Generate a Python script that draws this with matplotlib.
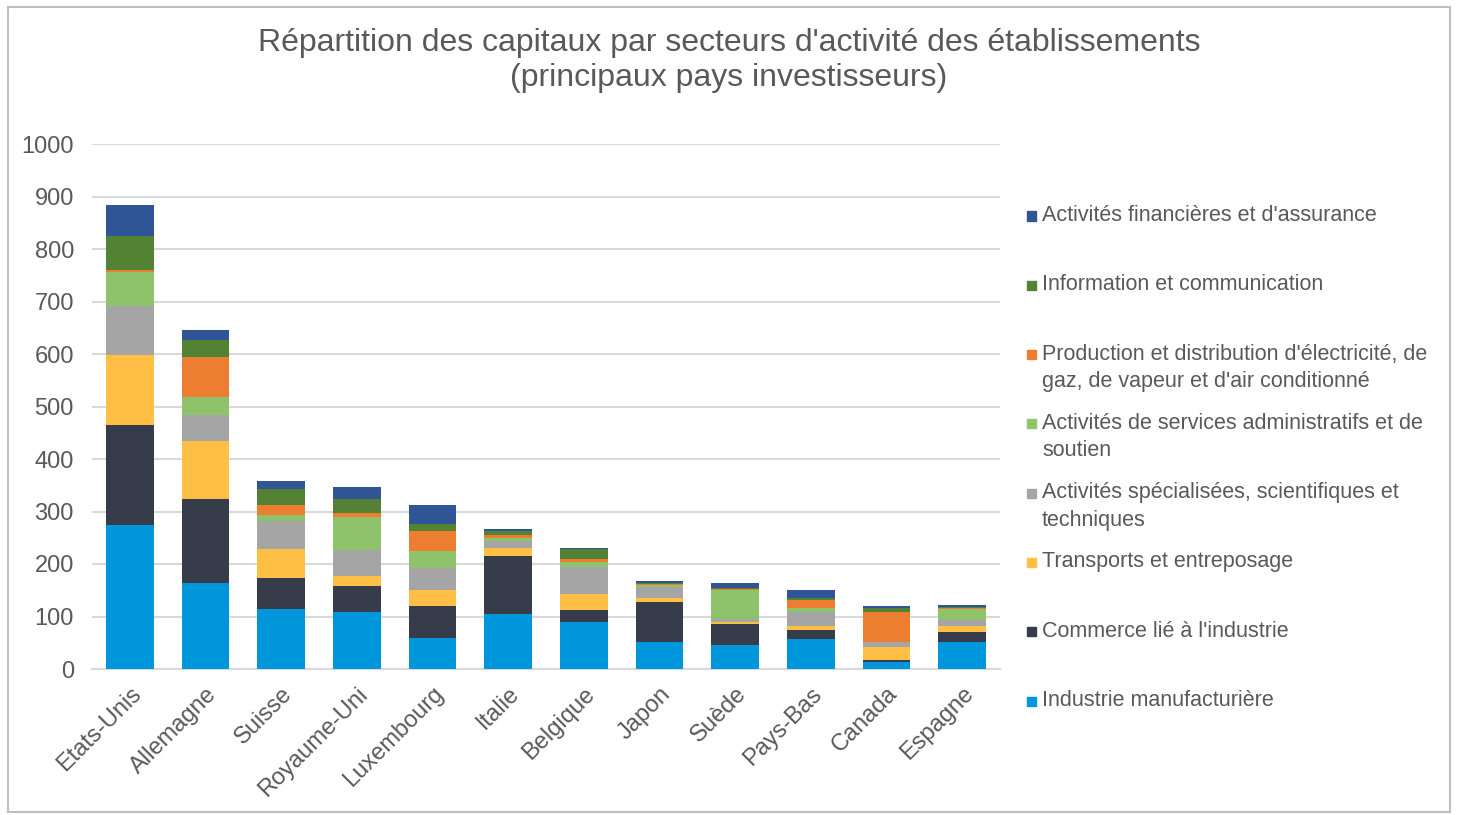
import numpy as np
import matplotlib.pyplot as plt
import matplotlib.patches as patches

plt.rcParams['font.family'] = ['Liberation Sans', 'DejaVu Sans']

pays = ['Etats-Unis', 'Allemagne', 'Suisse', 'Royaume-Uni', 'Luxembourg', 'Italie',
        'Belgique', 'Japon', 'Suède', 'Pays-Bas', 'Canada', 'Espagne']

# secteurs, du bas vers le haut de la pile
secteurs = ['Industrie manufacturière',
            'Commerce lié à l\'industrie',
            'Transports et entreposage',
            'Activités spécialisées, scientifiques et\ntechniques',
            'Activités de services administratifs et de\nsoutien',
            'Production et distribution d\'électricité, de\ngaz, de vapeur et d\'air conditionné',
            'Information et communication',
            'Activités financières et d\'assurance']

industrie = [274, 163, 114, 108, 59, 105, 90, 51, 46, 58, 13, 51]
commerce = [191, 160, 60, 51, 61, 110, 23, 77, 39, 16, 4, 19]
transports = [134, 111, 54, 19, 31, 16, 30, 8, 5, 7, 25, 11]
specialisees = [92, 50, 54, 49, 42, 12, 51, 20, 6, 28, 9, 13]
administratifs = [65, 35, 11, 62, 31, 7, 10, 4, 55, 7, 0, 20]
electricite = [4, 76, 19, 8, 38, 5, 5, 1, 1, 15, 58, 3]
information = [64, 31, 30, 27, 15, 8, 19, 3, 3, 5, 7, 1]
financieres = [59, 19, 16, 23, 35, 3, 3, 3, 9, 15, 4, 3]

series = [industrie, commerce, transports, specialisees,
          administratifs, electricite, information, financieres]
couleurs = ['#0096DB', '#363C4A', '#FFBF44', '#A5A5A5',
            '#8FC36B', '#ED7D31', '#548235', '#2F5597']

texte = '#595959'
grille = '#D9D9D9'

fig = plt.figure(figsize=(14.58, 8.15), dpi=100)
ax = fig.add_axes([92/1458, 1-669/815, 908/1458, 525/815])

x = np.arange(len(pays))
bas = np.zeros(len(pays))
for vals, c in zip(series, couleurs):
    ax.bar(x, vals, bottom=bas, width=0.63, color=c, zorder=3)
    bas += np.array(vals)

ax.set_xlim(-0.5, len(pays) - 0.5)
ax.set_ylim(0, 1000)
ax.set_yticks(np.arange(0, 1001, 100))
ax.yaxis.grid(True, color=grille, lw=1.5, zorder=0)
for s in ['top', 'right', 'left']:
    ax.spines[s].set_visible(False)
ax.spines['bottom'].set_color(grille)
ax.spines['bottom'].set_linewidth(1.5)
ax.tick_params(axis='y', length=0, pad=13, labelsize=17, labelcolor=texte)
ax.tick_params(axis='x', length=0, pad=10, labelsize=17, labelcolor=texte)
ax.set_xticks(x)
ax.set_xticklabels(pays, rotation=45, ha='right', rotation_mode='anchor')

fig.text(0.5, 1-28/815, 'Répartition des capitaux par secteurs d\'activité des établissements\n(principaux pays investisseurs)',
         ha='center', va='top', fontsize=23, color=texte, linespacing=1.2)

# légende à droite, ordre inversé
y0 = 216
pas = 69.3
for i, (lab, c) in enumerate(zip(secteurs[::-1], couleurs[::-1])):
    yc = y0 + i * pas
    fig.patches.append(patches.Rectangle((1027/1458, 1-(yc+4.5)/815), 9/1458, 9/815,
                                         transform=fig.transFigure, color=c))
    fig.text(1042/1458, 1-(yc-11)/815, lab, ha='left', va='top', fontsize=15.5,
             color=texte, linespacing=1.4)

# cadre
fig.patches.append(patches.Rectangle((8/1458, 3/815), 1442/1458, 805/815, transform=fig.transFigure,
                                     fill=False, edgecolor='#BFBFBF', lw=1.5))

plt.savefig('out.png', dpi=100)
